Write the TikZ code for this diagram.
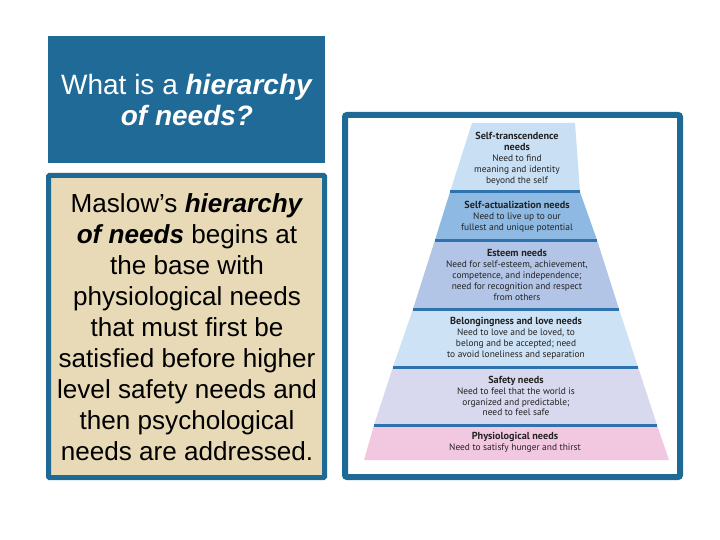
\documentclass[tikz,border=0pt]{standalone}
\usepackage{fontspec}
\setmainfont{Liberation Sans}
\newfontfamily\ptsans{PT Sans}
\definecolor{frameblue}{HTML}{1E6A95}
\definecolor{titleblue}{HTML}{1F6A96}
\definecolor{beige}{HTML}{E8DAB6}
\definecolor{sepblue}{HTML}{2E72AE}
\definecolor{bandA}{HTML}{C9DFF3}
\definecolor{bandB}{HTML}{8EB9E2}
\definecolor{bandC}{HTML}{B3C5E6}
\definecolor{bandD}{HTML}{CDE2F5}
\definecolor{bandE}{HTML}{D8D8EE}
\definecolor{bandF}{HTML}{F2C8E0}
\definecolor{pyrtext}{HTML}{222222}
\newcommand{\hd}[1]{{\fontsize{10.2}{10.9}\selectfont\bfseries #1}}
\tikzset{
  bandtext/.style={align=center, text=pyrtext, inner sep=0pt,
    font=\ptsans\fontsize{9.4}{10.9}\selectfont},
  sepline/.style={draw=sepblue, line width=3pt},
}
\begin{document}
\begin{tikzpicture}[x=1pt,y=-1pt]
\useasboundingbox (0,0) rectangle (720,540);
\fill[white] (0,0) rectangle (720,540);
% title box
\fill[titleblue] (48,36) rectangle (325,163);
\node[text=white, align=center, font=\fontsize{28}{32}\selectfont] (title) at (187,100)
  {What is a \textbf{\textit{hierarchy}}\\\textbf{\textit{of needs?}}};
% body box
\draw[frameblue, fill=beige, line width=5pt, rounded corners=1pt] (48.5,175.5) rectangle (324.5,477.5);
\node[text=black, align=center, font=\fontsize{26.1}{31}\selectfont] (body) at (187,327.5)
  {Maslow’s \textbf{\textit{hierarchy}}\\\textbf{\textit{of needs}} begins at\\the base with\\physiological needs\\that must first be\\satisfied before higher\\level safety needs and\\then psychological\\needs are addressed.};
% pyramid frame
\draw[frameblue, line width=6pt, rounded corners=2pt] (345,115) rectangle (680,477);
% bands
\fill[bandA] (472,123) -- (575,123) -- (580,192) -- (450,192) -- cycle;
\fill[bandB] (450,192) -- (580,192) -- (597,240) -- (435,240) -- cycle;
\fill[bandC] (435,240) -- (597,240) -- (619,309) -- (413,309) -- cycle;
\fill[bandD] (413,309) -- (619,309) -- (638,367) -- (393,367) -- cycle;
\fill[bandE] (393,367) -- (638,367) -- (657,425) -- (374,425) -- cycle;
\fill[bandF] (374,425) -- (657,425) -- (669,460) -- (364,460) -- cycle;
% separators
\coordinate (s1l) at (450,192); \coordinate (s1r) at (580,192);
\coordinate (s2l) at (435,240); \coordinate (s2r) at (597,240);
\coordinate (s3l) at (413,309); \coordinate (s3r) at (619,309);
\coordinate (s4l) at (393,367); \coordinate (s4r) at (638,367);
\coordinate (s5l) at (374,425); \coordinate (s5r) at (657,425);
\draw[sepline] (s1l) -- (s1r);
\draw[sepline] (s2l) -- (s2r);
\draw[sepline] (s3l) -- (s3r);
\draw[sepline] (s4l) -- (s4r);
\draw[sepline] (s5l) -- (s5r);
% band texts
\node[bandtext] (t1) at (517,159) {\hd{Self-transcendence}\\\hd{needs}\\Need to find\\meaning and identity\\beyond the self};
\node[bandtext] (t2) at (517,217) {\hd{Self-actualization needs}\\Need to live up to our\\fullest and unique potential};
\node[bandtext] (t3) at (517,275) {\hd{Esteem needs}\\Need for self-esteem, achievement,\\competence, and independence;\\need for recognition and respect\\from others};
\node[bandtext] (t4) at (516,338) {\hd{Belongingness and love needs}\\Need to love and be loved, to\\belong and be accepted; need\\to avoid loneliness and separation};
\node[bandtext] (t5) at (516,396) {\hd{Safety needs}\\Need to feel that the world is\\organized and predictable;\\need to feel safe};
\node[bandtext] (t6) at (515,442) {\hd{Physiological needs}\\Need to satisfy hunger and thirst};
\end{tikzpicture}
\end{document}
